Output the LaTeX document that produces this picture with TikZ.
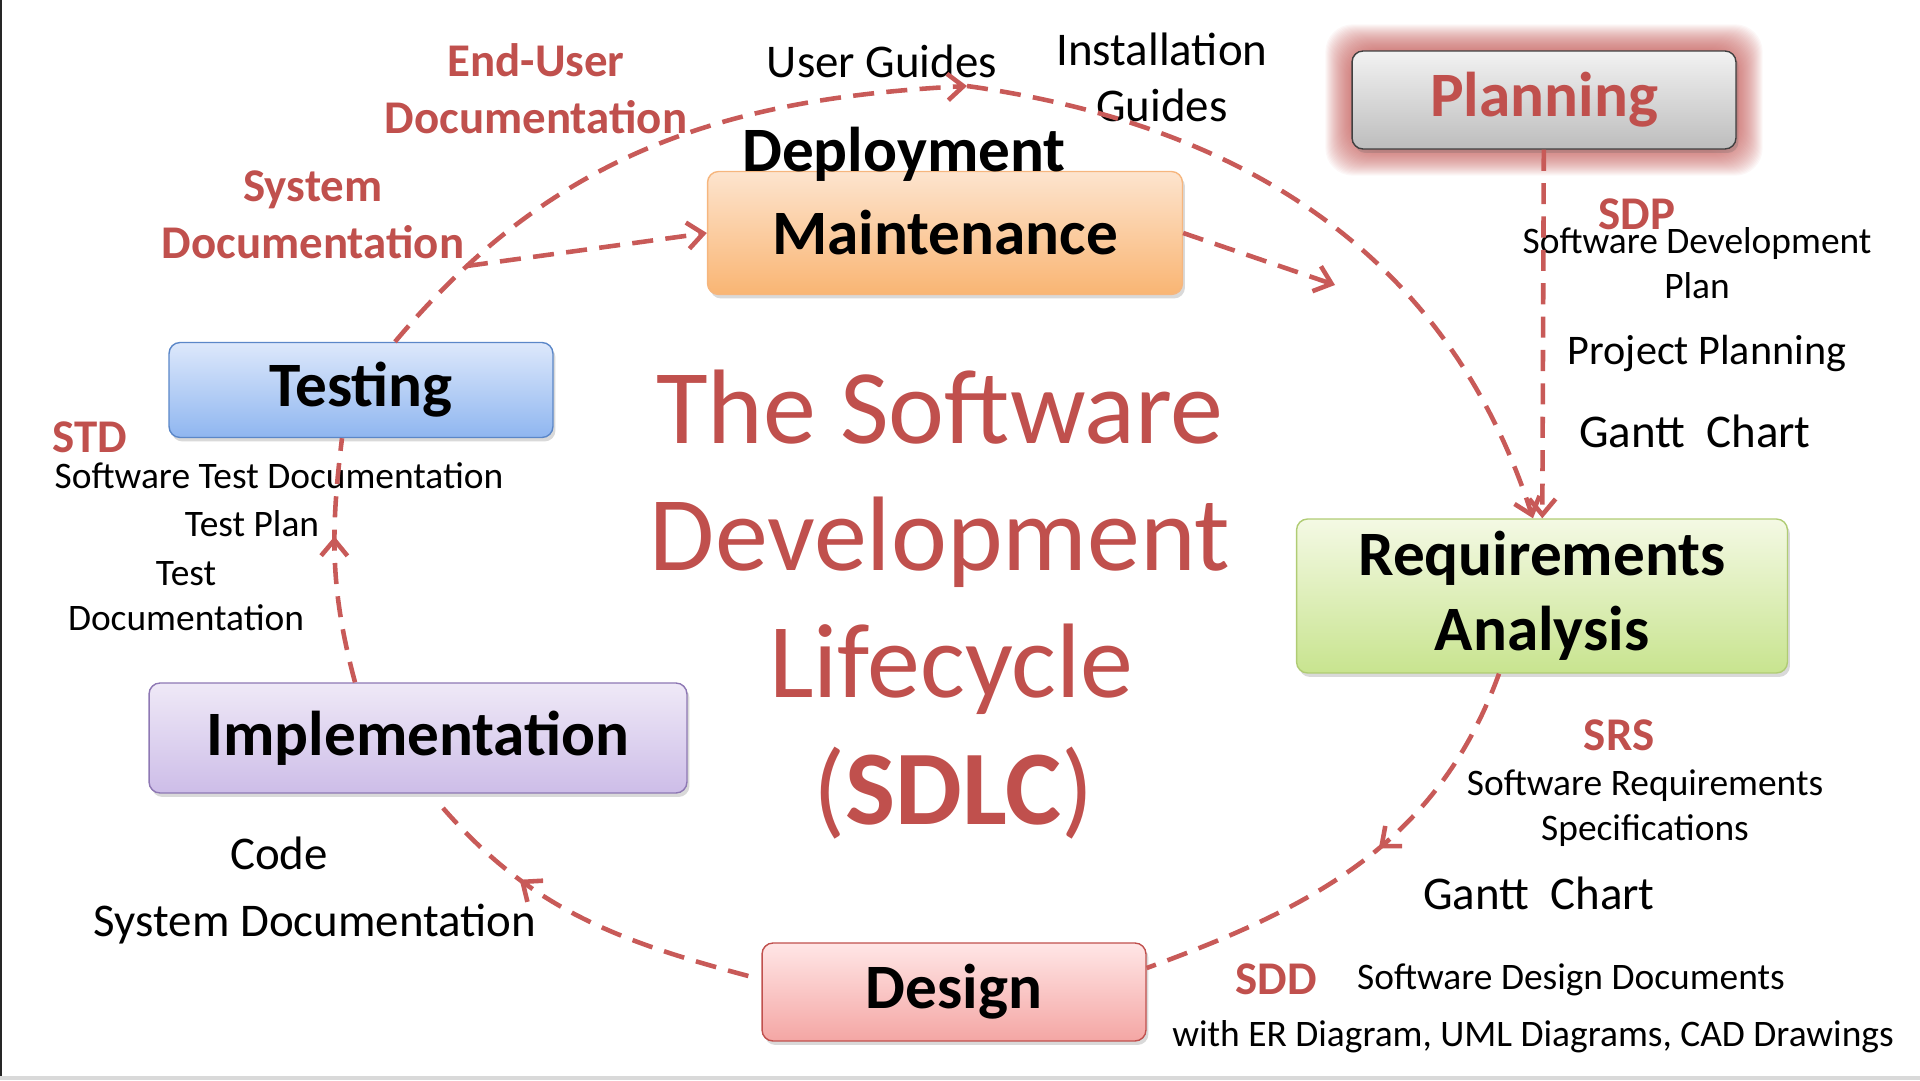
\documentclass[tikz,border=0pt]{standalone}
\usepackage{fontspec}
\setmainfont{Carlito}
\usepackage{xcolor}
\usetikzlibrary{positioning,arrows.meta,shadows,decorations.markings,backgrounds}

\definecolor{sdlcred}{HTML}{C0504D}
\definecolor{linkred}{HTML}{C85A58}
\definecolor{planTop}{HTML}{F2F2F2}
\definecolor{planBot}{HTML}{BDBDBD}
\definecolor{maintTop}{HTML}{FDE4CE}
\definecolor{maintBot}{HTML}{F9B573}
\definecolor{maintLine}{HTML}{F6B67E}
\definecolor{testTop}{HTML}{DDE8FB}
\definecolor{testBot}{HTML}{8FB6F0}
\definecolor{testLine}{HTML}{5B87C8}
\definecolor{reqTop}{HTML}{F4F9E4}
\definecolor{reqBot}{HTML}{C8E48F}
\definecolor{reqLine}{HTML}{B0CC74}
\definecolor{implTop}{HTML}{EFE9F7}
\definecolor{implBot}{HTML}{CDBDE8}
\definecolor{implLine}{HTML}{8E78B4}
\definecolor{designTop}{HTML}{FFE6E6}
\definecolor{designBot}{HTML}{F4A6A4}

\begin{document}
\begin{tikzpicture}[
  x=0.02cm, y=0.02cm,
  phase/.style={draw, rounded corners=0.22cm, line width=0.8pt, inner sep=0pt,
                align=center, font=\fontsize{36}{43}\selectfont\bfseries,
                drop shadow={shadow xshift=0.05cm, shadow yshift=-0.08cm,
                             opacity=0.25, fill=black!60}},
  dashlink/.style={draw, color=linkred, line width=2.6pt, dash pattern=on 12pt off 7pt},
  headarr/.style={-{Straight Barb[length=9pt,width=15pt]}},
  midtip/.style={postaction={decorate, decoration={markings,
      mark=at position #1 with {\arrow{Straight Barb[length=9pt,width=15pt]}}}}},
  redlbl/.style={text=sdlcred, font=\fontsize{26.7}{32.4}\selectfont\bfseries, align=center},
  biglbl/.style={font=\fontsize{26.7}{32}\selectfont, align=center},
  smalllbl/.style={font=\fontsize{21.3}{25.6}\selectfont, align=center}
]
\useasboundingbox (0,0) rectangle (1920,1080);
\fill[black!85] (0,0) rectangle (2.5,1080);
\fill[black!15] (0,0) rectangle (1920,4);

% phases of the cycle
\node[phase, minimum width=7.68cm, minimum height=1.96cm, top color=planTop,
      bottom color=planBot, draw=black!75, text=sdlcred] (plan) at (1544,980) {Planning};
\node[phase, minimum width=9.5cm, minimum height=2.46cm, top color=maintTop,
      bottom color=maintBot, draw=maintLine] (maint) at (945,847) {Maintenance};
\node[phase, minimum width=7.68cm, minimum height=1.9cm, top color=testTop,
      bottom color=testBot, draw=testLine] (test) at (361,690) {Testing};
\node[phase, minimum width=9.82cm, minimum height=3.08cm, top color=reqTop,
      bottom color=reqBot, draw=reqLine] (req) at (1542,484) {Requirements\\Analysis};
\node[phase, minimum width=10.76cm, minimum height=2.2cm, top color=implTop,
      bottom color=implBot, draw=implLine] (impl) at (418,342) {Implementation};
\node[phase, minimum width=7.68cm, minimum height=1.96cm, top color=designTop,
      bottom color=designBot, draw=sdlcred] (design) at (954,88) {Design};

% glow round planning
\begin{scope}[on background layer]
  \foreach \g in {1,...,26}
    \fill[sdlcred, opacity=0.045, rounded corners=0.55cm]
      ([shift={(-\g,-\g)}]plan.south west) rectangle ([shift={(\g,\g)}]plan.north east);
\end{scope}

% title
\node[text=sdlcred, font=\fontsize{60.3}{72.3}\selectfont, align=center] (title)
  at (940,475) {The Software\\Development\\\hspace*{0.45cm}Lifecycle\\
  \hspace*{0.54cm}(\textbf{SDLC})};

% documents
\node[redlbl] (enduser) at (536,991) {End-User\\Documentation};
\node[biglbl] (userguide) at (882,1019) {User Guides};
\node[biglbl] (install) at (1162,1003) {Installation\\Guides};
\node[font=\fontsize{36}{43}\selectfont\bfseries] (deploy) at (904,926) {Deployment};
\node[redlbl] (sysdoc) at (313,865) {System\\Documentation};
\node[redlbl] (sdp) at (1637,866) {SDP};
\node[smalllbl] (sdpname) at (1697,817) {Software Development\\Plan};
\node[font=\fontsize{24}{29}\selectfont] (projplan) at (1707,727) {Project Planning};
\node[biglbl] (ganttplan) at (1695,649) {Gantt\ \ Chart};
\node[redlbl] (std) at (90,643) {STD};
\node[smalllbl] (stdname) at (279,604) {Software Test Documentation};
\node[smalllbl] (testplan) at (252,556) {Test Plan};
\node[smalllbl] (testdoc) at (186,484) {Test\\Documentation};
\node[biglbl] (code) at (279,227) {Code};
\node[biglbl] (impldoc) at (315,156) {System Documentation};
\node[redlbl] (srs) at (1619,345) {SRS};
\node[smalllbl] (srsname) at (1645,272) {Software Requirements\\Specifications};
\node[biglbl] (ganttreq) at (1539,187) {Gantt\ \ Chart};
\node[redlbl] (sdd) at (1276,101) {SDD};
\node[smalllbl] (sddname) at (1571,100) {Software Design Documents};
\node[smalllbl] (sddwith) at (1533,43) {with ER Diagram, UML Diagrams, CAD Drawings};

% connectors
\coordinate (ugtip) at (967,994);
\coordinate (maintout) at (1335,795);
\draw[dashlink, headarr] (plan) -- (req);
\draw[dashlink, headarr] (maint.east) -- (maintout);
\draw[dashlink, headarr] ([xshift=0.68cm]test.north) to[out=50, in=183]
  coordinate[pos=0.15] (sdfork) (ugtip);
\draw[dashlink, headarr] (sdfork) -- (maint.west);
\draw[dashlink, headarr] (ugtip) to[out=-8, in=108] ([xshift=-0.18cm]req.north);
\draw[dashlink, midtip=0.45] ([xshift=-0.86cm]req.south) to[out=250, in=20]
  ([yshift=0.48cm]design.east);
\draw[dashlink, midtip=0.68] ([xshift=-0.26cm, yshift=0.32cm]design.west)
  to[out=165, in=310] ([xshift=0.34cm, yshift=-0.1cm]impl.south);
\draw[dashlink, midtip=0.6] ([xshift=-1.26cm]impl.north) to[out=105, in=263]
  ([xshift=-0.38cm]test.south);
\end{tikzpicture}
\end{document}
